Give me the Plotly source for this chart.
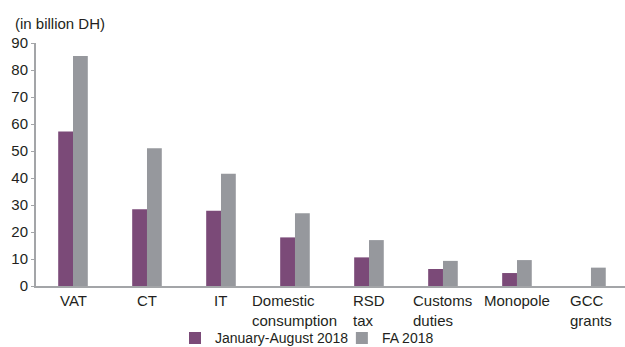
import plotly.graph_objects as go

# Revenue categories and amounts (billion DH)
categories = ["VAT", "CT", "IT", "Domestic<br>consumption", "RSD<br>tax",
              "Customs<br>duties", "Monopole", "GCC<br>grants"]
jan_aug_2018 = [57.2, 28.4, 27.9, 18.0, 10.6, 6.3, 4.8, 0]
fa_2018 = [85.2, 51.0, 41.6, 26.9, 17.0, 9.3, 9.6, 6.8]
y_ticks = [0, 10, 20, 30, 40, 50, 60, 70, 80, 90]

PURPLE = "#7b4a78"
GREY = "#96989d"
AXIS = "#a3a5a8"
TEXT = "#231f20"
FONT = "Liberation Sans, Arial, sans-serif"
FS = 15

x_idx = list(range(len(categories)))

fig = go.Figure()
fig.add_trace(go.Bar(x=x_idx, y=jan_aug_2018, name="January-August 2018",
                     marker=dict(color=PURPLE, line=dict(width=0)),
                     legend="legend"))
fig.add_trace(go.Bar(x=x_idx, y=fa_2018, name="FA 2018",
                     marker=dict(color=GREY, line=dict(width=0)),
                     legend="legend2"))

# Category labels below the axis, multi-line labels left-aligned
annotations = []
for i, label in enumerate(categories):
    annotations.append(dict(
        x=i, y=0, xref="x", yref="y", text=label, showarrow=False,
        xanchor="center", yanchor="top", align="left", yshift=-4,
        font=dict(family=FONT, size=FS, color=TEXT),
    ))

# Unit note above the value axis
annotations.append(dict(
    x=0, y=1, xref="paper", yref="paper", text="(in billion DH)",
    showarrow=False, xanchor="left", yanchor="bottom", xshift=-23, yshift=9,
    font=dict(family=FONT, size=FS, color=TEXT),
))

legend_style = dict(orientation="h", xanchor="left", xref="container",
                    yref="container", y=0.025, yanchor="middle",
                    font=dict(family=FONT, size=14, color=TEXT),
                    itemwidth=30, bgcolor="rgba(0,0,0,0)")

fig.update_layout(
    width=625, height=347,
    margin=dict(l=36, r=0, t=43, b=61, autoexpand=False),
    paper_bgcolor="white", plot_bgcolor="white",
    barmode="group", bargap=0.6, bargroupgap=0,
    font=dict(family=FONT, size=FS, color=TEXT),
    showlegend=True,
    legend=dict(x=0.28, **legend_style),
    legend2=dict(x=0.547, **legend_style),
    annotations=annotations,
    xaxis=dict(range=[-0.5, 7.46], showticklabels=False, ticks="",
               showline=True, linecolor=AXIS, linewidth=2, showgrid=False,
               zeroline=False, fixedrange=True),
    yaxis=dict(range=[0, 90], tickvals=y_ticks, ticks="outside", ticklen=3,
               tickcolor=AXIS, tickwidth=1, showline=True, linecolor=AXIS,
               linewidth=2, showgrid=False, zeroline=False,
               tickfont=dict(family=FONT, size=FS, color=TEXT)),
)

fig.write_html("out.html", config={"displayModeBar": False})
